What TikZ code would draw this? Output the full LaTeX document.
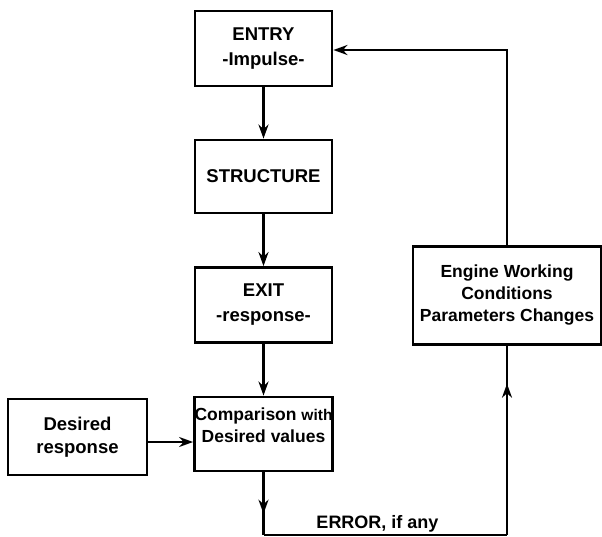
\documentclass[tikz,border=0pt]{standalone}
\usepackage{fontspec}
\setmainfont{Liberation Sans}
\usetikzlibrary{arrows.meta,decorations.markings}
\begin{document}
\begin{tikzpicture}[x=1pt,y=-1pt,
  blk/.style={draw,line width=2.8pt,rectangle,inner sep=0pt,align=center,
    font=\bfseries\fontsize{18.5}{25}\selectfont},
  conn/.style={line width=2.3pt},
  tip/.style={-{Stealth[length=14pt,width=10pt,inset=4.5pt]}},
  midtip/.style={decoration={markings,mark=at position #1 with {\arrow{Stealth[length=14pt,width=10pt,inset=4.5pt]}}},postaction={decorate}},
  lbl/.style={font=\bfseries\fontsize{18}{22}\selectfont}]
\useasboundingbox (0,0) rectangle (602,537);
\node[blk,minimum width=137pt,minimum height=75pt] (entry) at (263.5,48.5) {ENTRY\\-Impulse-};
\node[blk,minimum width=137pt,minimum height=73pt] (struct) at (263.5,176.5) {STRUCTURE};
\node[blk,minimum width=137pt,minimum height=75pt] (exit) at (263.5,305) {EXIT\\-response-};
\node[blk,minimum width=138pt,minimum height=74pt,font=\bfseries\fontsize{17.5}{22}\selectfont] (comp) at (263.5,434) {Comparison {\fontsize{15.5}{16}\selectfont with}\\Desired values\\[-4pt]};
\node[blk,minimum width=139pt,minimum height=76pt,font=\bfseries\fontsize{18.5}{23}\selectfont] (des) at (77.5,437) {Desired\\response};
\node[blk,minimum width=188pt,minimum height=98pt,font=\bfseries\fontsize{17.5}{22}\selectfont] (eng) at (507,295.5) {Engine Working\\Conditions\\Parameters Changes};
\coordinate (c1) at (263.5,535);
\coordinate (c2) at (507,535);
\coordinate (c3) at (507,50);
\draw[conn,tip] (entry) -- (struct);
\draw[conn,tip] (struct) -- (exit);
\draw[conn,tip] (exit) -- (comp);
\draw[conn,line width=1.8pt,tip] (des.east |- 0,442) -- (comp.west |- 0,442);
\draw[conn,midtip=0.66] (comp.south) -- (c1);
\draw[conn] (c1) -- (c2);
\draw[conn,midtip=0.8] (c2) -- (eng.south);
\draw[conn,tip] (eng.north) -- (c3) -- (entry.east |- c3);
\node[lbl,anchor=base] (err) at (377.5,528) {ERROR, if any};
\end{tikzpicture}
\end{document}
